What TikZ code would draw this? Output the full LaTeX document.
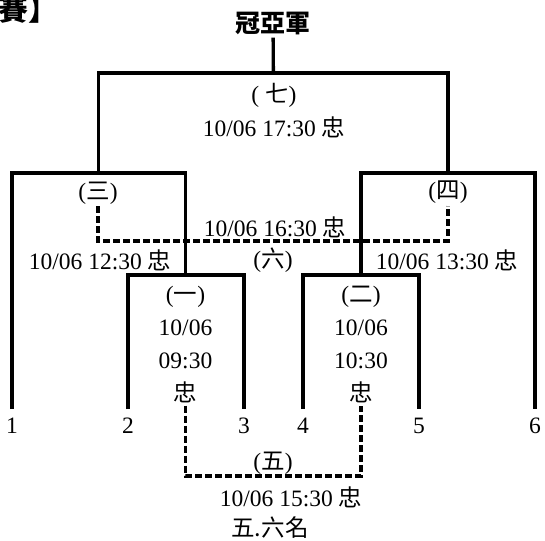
\documentclass[tikz,border=0pt]{standalone}
\usepackage{fontspec}
\setmainfont{Liberation Serif}
\newfontfamily\cjk{Noto Sans CJK TC}
\newcommand{\zh}[1]{{\cjk #1}}

\begin{document}
\begin{tikzpicture}[x=1pt, y=-1pt,
  bracket/.style={line width=3.3pt},
  dashbracket/.style={line width=3.3pt, dash pattern=on 7pt off 3pt},
  txt/.style={font=\fontsize{23.5}{33}\selectfont, inner sep=2pt, align=center},
  team/.style={txt, anchor=north, inner sep=0pt, inner ysep=9pt}]
  \useasboundingbox (0,0) rectangle (545,540);
  % title
  \node[anchor=base west, inner sep=0pt, font=\fontsize{30}{30}\selectfont\cjk\bfseries] (title) at (-2,21) {賽】};
  \node[font=\fontsize{25}{25}\selectfont\cjk\bfseries, inner sep=2pt] (champ) at (273,24) {冠亞軍};
  % teams
  \foreach \x [count=\i] in {12,128,244,303,419,535}
    \node[team] (t\i) at (\x,409) {\i};
  % match points
  \coordinate (m1) at (185.5,275);
  \coordinate (m2) at (361,275);
  \coordinate (m3) at (98.75,173);
  \coordinate (m4) at (448,173);
  \coordinate (m7) at (273.4,73);
  % brackets
  \draw[bracket] (t2.north) |- (m1) -| (t3.north);
  \draw[bracket] (t4.north) |- (m2) -| (t5.north);
  \draw[bracket] (t1.north) |- (m3) -| (m1);
  \draw[bracket] (m2) |- (m4) -| (t6.north);
  \draw[bracket] (m3) |- (m7) -| (m4);
  \draw[bracket] (m7) -- (champ);
  % match labels
  \node[txt] (g1) at (185.5,345) {(\zh{一})\\10/06\\09:30\\\zh{忠}};
  \node[txt] (g2) at (361,345) {(\zh{二})\\10/06\\10:30\\\zh{忠}};
  \node[txt] (g3) at (98,193) {(\zh{三})};
  \node[txt] (d3) at (100,260) {10/06 12:30 \zh{忠}};
  \node[txt] (g4) at (448,192) {(\zh{四})};
  \node[txt] (d4) at (447,260) {10/06 13:30 \zh{忠}};
  \node[txt] (g7) at (274,95) {( \zh{七})};
  \node[txt] (d7) at (274,127) {10/06 17:30 \zh{忠}};
  \node[txt] (g6) at (273,260) {(\zh{六})};
  \node[txt] (d6) at (275,227) {10/06 16:30 \zh{忠}};
  \node[txt] (g5) at (273,463) {(\zh{五})};
  \node[txt] (d5) at (291,497) {10/06 15:30 \zh{忠}};
  \node[txt] (rank) at (270,528) {\zh{五.六名}};
  % losers' matches
  \coordinate (c6) at (273,241);
  \draw[dashbracket] (g3.south) |- (c6) -| (g4.south);
  \coordinate (c5) at (273,476);
  \draw[dashbracket] (g1.south) |- (c5) -| (g2.south);
\end{tikzpicture}
\end{document}
